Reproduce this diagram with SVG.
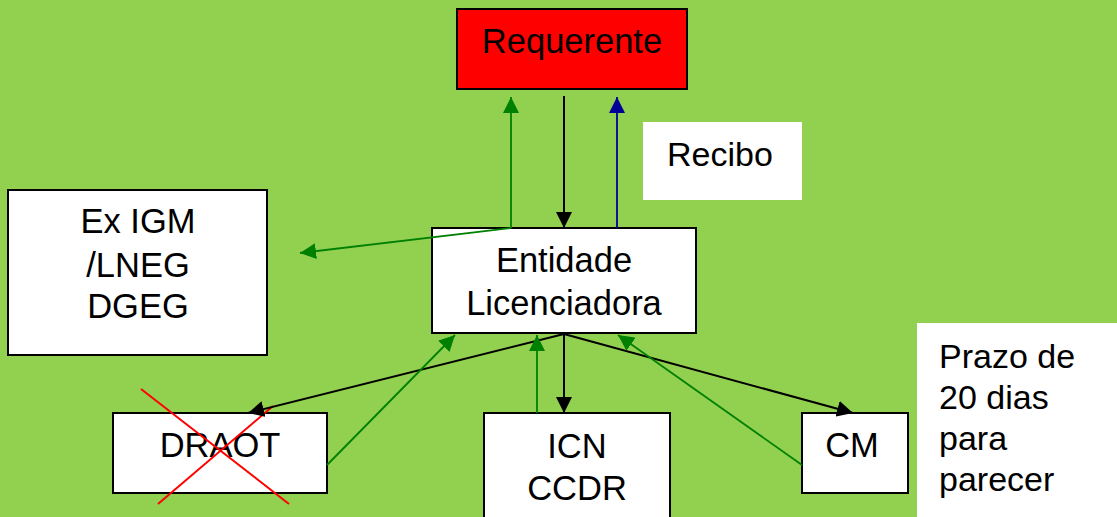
<svg xmlns="http://www.w3.org/2000/svg" width="1117" height="517" viewBox="0 0 1117 517">
<style>
.box{fill:#fff;stroke:#000;stroke-width:2}
.note{fill:#fff;stroke:none}
.t{font-family:"Liberation Sans",Arial,sans-serif;font-size:34.5px;fill:#000;text-anchor:middle}
.tl{font-family:"Liberation Sans",Arial,sans-serif;font-size:34px;fill:#000}
.k{stroke:#000;stroke-width:2;fill:none}
.g{stroke:#008000;stroke-width:1.8;fill:none}
.b{stroke:#000099;stroke-width:1.8;fill:none}
.x{stroke:#ff0000;stroke-width:2}
</style>
<defs>
<marker id="ak" markerUnits="userSpaceOnUse" markerWidth="17" markerHeight="16" refX="16" refY="8" orient="auto"><path d="M0,0 L16,8 L0,16 z" fill="#000"/></marker>
<marker id="ag" markerUnits="userSpaceOnUse" markerWidth="17" markerHeight="16" refX="16" refY="8" orient="auto"><path d="M0,0 L16,8 L0,16 z" fill="#008000"/></marker>
<marker id="ab" markerUnits="userSpaceOnUse" markerWidth="17" markerHeight="16" refX="16" refY="8" orient="auto"><path d="M0,0 L16,8 L0,16 z" fill="#000099"/></marker>
</defs>
<rect x="0" y="0" width="1117" height="517" fill="#92D050"/>
<g id="requerente"><rect x="457" y="9" width="230" height="80" fill="#ff0000" stroke="#000" stroke-width="2"/><text class="t" x="572" y="53">Requerente</text></g>
<g id="recibo"><rect class="note" x="643" y="122" width="159" height="78"/><text class="tl" x="667" y="166">Recibo</text></g>
<g id="exigm"><rect class="box" x="8" y="190" width="259" height="165"/><text class="t" x="138" y="233">Ex IGM</text><text class="t" x="138" y="277">/LNEG</text><text class="t" x="138" y="318">DGEG</text></g>
<g id="entidade"><rect class="box" x="432" y="228" width="264" height="105"/><text class="t" x="564" y="272">Entidade</text><text class="t" x="564" y="315">Licenciadora</text></g>
<g id="draot"><rect class="box" x="113" y="413" width="214" height="80"/><text class="t" x="220" y="457">DRAOT</text><line class="x" x1="141" y1="389" x2="289" y2="504"/><line class="x" x1="158" y1="504" x2="273" y2="406"/></g>
<g id="icn"><rect class="box" x="484" y="413" width="186" height="110"/><text class="t" x="577" y="458">ICN</text><text class="t" x="577" y="500">CCDR</text></g>
<g id="cm"><rect class="box" x="802" y="413" width="106" height="80"/><text class="t" x="852" y="457">CM</text></g>
<g id="prazo"><rect class="note" x="917" y="323" width="200" height="194"/><text class="tl" x="939" y="368">Prazo de</text><text class="tl" x="939" y="409">20 dias</text><text class="tl" x="939" y="450">para</text><text class="tl" x="939" y="491">parecer</text></g>
<g id="connectors">
<line class="g" x1="511" y1="228" x2="511" y2="97" marker-end="url(#ag)"/>
<line class="g" x1="511" y1="228" x2="300" y2="253" marker-end="url(#ag)"/>
<line class="k" x1="564" y1="96" x2="564" y2="228" marker-end="url(#ak)"/>
<line class="b" x1="617" y1="228" x2="617" y2="97" marker-end="url(#ab)"/>
<line class="k" x1="564" y1="334" x2="248" y2="413" marker-end="url(#ak)"/>
<line class="k" x1="564" y1="334" x2="564" y2="413" marker-end="url(#ak)"/>
<line class="k" x1="564" y1="334" x2="853" y2="413" marker-end="url(#ak)"/>
<line class="g" x1="327" y1="465" x2="455" y2="335" marker-end="url(#ag)"/>
<line class="g" x1="537" y1="413" x2="537" y2="335" marker-end="url(#ag)"/>
<line class="g" x1="802" y1="465" x2="618" y2="335" marker-end="url(#ag)"/>
</g>
</svg>
